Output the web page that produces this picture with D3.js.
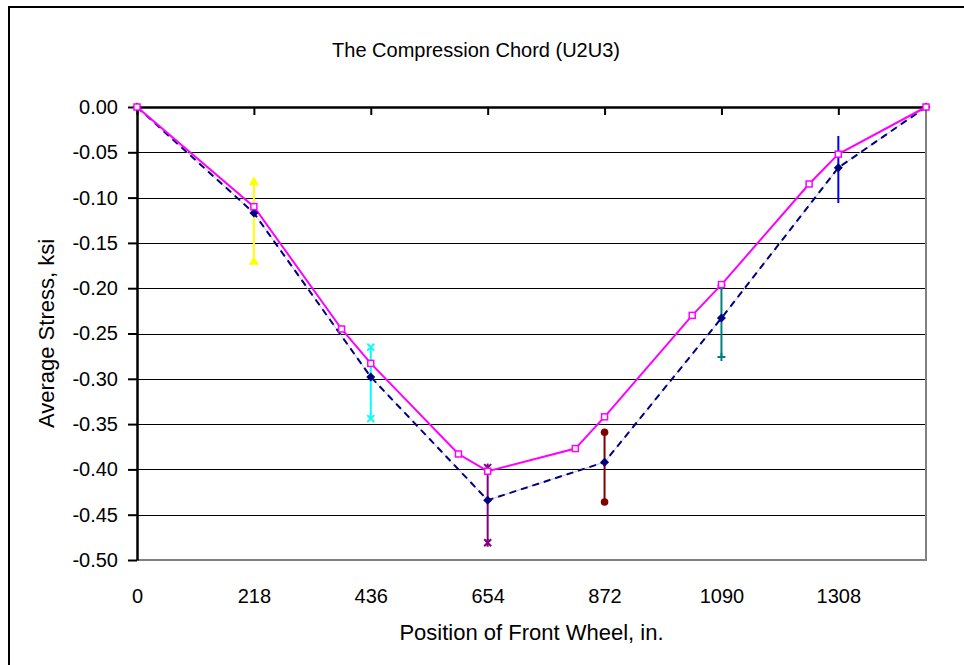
<!DOCTYPE html>
<html lang="en">
<head>
<meta charset="UTF-8">
<title>The Compression Chord (U2U3)</title>
<script src="https://d3js.org/d3.v7.min.js"></script>
<style>
    body { margin: 0; background: #fff; }
    text { font-family: Arial, "Liberation Sans", sans-serif; fill: #000; }
</style>
</head>
<body>
<svg id="chart" width="964" height="665"></svg>
<script>
    // computed stress (magenta, open squares)
    const calcPos = [0, 218, 381.5, 436, 599.5, 654, 817.5, 872, 1035.5, 1090, 1253.5, 1308, 1471.5];
    const calcStress = [0, -0.110, -0.245, -0.283, -0.383, -0.402, -0.377, -0.342, -0.230, -0.196, -0.085, -0.052, 0];

    // measured average stress (navy dashed, diamonds)
    const measPos = [0, 218, 436, 654, 872, 1090, 1308, 1471.5];
    const measStress = [0, -0.117, -0.298, -0.434, -0.392, -0.233, -0.067, 0];

    // range bars at each panel point
    const barPos = [218, 436, 654, 872, 1090, 1308];
    const barHigh = [-0.083, -0.265, -0.398, -0.359, -0.197, -0.032];
    const barLow = [-0.171, -0.344, -0.481, -0.436, -0.276, -0.106];
    const barColors = ['#ffff00', '#00ffff', '#800080', '#800000', '#008080', '#0000ff'];
    const barMarks = ['triangle', 'cross', 'star', 'circle', 'plus', 'none'];

    const xTicks = [0, 218, 436, 654, 872, 1090, 1308];
    const yTicks = [0, -0.05, -0.10, -0.15, -0.20, -0.25, -0.30, -0.35, -0.40, -0.45, -0.50];

    const svg = d3.select('#chart');
    const fs = 20;
    const fsTitle = 22;

    const x = d3.scaleLinear().domain([0, 1471.5]).range([137, 926]);
    const y = d3.scaleLinear().domain([-0.5, 0]).range([560, 107]);

    // outer frame
    svg.append('rect')
        .attr('x', 9).attr('y', 7)
        .attr('width', 1000).attr('height', 700)
        .attr('fill', 'none').attr('stroke', '#000').attr('stroke-width', 2);

    svg.append('text')
        .attr('x', 476).attr('y', 57)
        .attr('text-anchor', 'middle')
        .style('font-size', fs + 'px')
        .text('The Compression Chord (U2U3)');

    // gridlines
    svg.append('g')
        .selectAll('line')
        .data(yTicks.filter(d => d < 0 && d > -0.5))
        .enter().append('line')
        .attr('x1', x(0)).attr('x2', x(1471.5))
        .attr('y1', d => Math.round(y(d)) + 0.5).attr('y2', d => Math.round(y(d)) + 0.5)
        .attr('stroke', '#000').attr('stroke-width', 1);

    // bottom and right plot border
    svg.append('path')
        .attr('d', `M${x(0)},${y(-0.5)}H${x(1471.5)}V${y(0)}`)
        .attr('fill', 'none').attr('stroke', '#808080').attr('stroke-width', 2);

    // x axis line sits at 0 with ticks pointing into the plot
    const topAxis = svg.append('g')
        .attr('transform', `translate(0,${y(0)})`)
        .call(d3.axisBottom(x).tickValues(xTicks).tickSize(8).tickSizeOuter(0).tickFormat(''));
    topAxis.select('.domain').attr('stroke-width', 2.5);
    topAxis.selectAll('.tick line').attr('stroke-width', 2);

    // x tick labels under the plot
    const bottomAxis = svg.append('g')
        .attr('transform', `translate(0,${y(-0.5)})`)
        .call(d3.axisBottom(x).tickValues(xTicks).tickSize(0).tickPadding(29).tickFormat(d => d));
    bottomAxis.select('.domain').remove();
    bottomAxis.selectAll('text').style('font-size', fs + 'px').attr('font-family', null);

    const leftAxis = svg.append('g')
        .attr('transform', `translate(${x(0)},0)`)
        .call(d3.axisLeft(y).tickValues(yTicks).tickSize(9).tickSizeOuter(0).tickPadding(10)
            .tickFormat(d => d.toFixed(2)));
    leftAxis.select('.domain').attr('stroke-width', 2.5);
    leftAxis.selectAll('.tick line').attr('stroke-width', 2);
    leftAxis.selectAll('text').style('font-size', fs + 'px').attr('font-family', null);

    svg.append('text')
        .attr('transform', `translate(54,${(y(0) + y(-0.5)) / 2}) rotate(-90)`)
        .attr('text-anchor', 'middle')
        .style('font-size', fsTitle + 'px')
        .text('Average Stress, ksi');

    svg.append('text')
        .attr('x', (x(0) + x(1471.5)) / 2).attr('y', 640)
        .attr('text-anchor', 'middle')
        .style('font-size', fsTitle + 'px')
        .text('Position of Front Wheel, in.');

    // range bars
    const bars = svg.append('g');
    barPos.forEach((p, i) => {
        const c = barColors[i];
        const cx = x(p);
        bars.append('line')
            .attr('x1', cx).attr('x2', cx)
            .attr('y1', y(barHigh[i])).attr('y2', y(barLow[i]))
            .attr('stroke', c).attr('stroke-width', 2);
        [barHigh[i], barLow[i]].forEach(v => {
            const cy = y(v);
            const g = bars.append('g').attr('transform', `translate(${cx},${cy})`);
            const m = barMarks[i];
            if (m === 'triangle') {
                g.append('path').attr('d', d3.symbol(d3.symbolTriangle, 45)()).attr('fill', c);
            } else if (m === 'circle') {
                g.append('circle').attr('r', 3.8).attr('fill', c);
            } else if (m === 'cross' || m === 'star') {
                g.append('path').attr('d', 'M-3.5,-3.5L3.5,3.5M-3.5,3.5L3.5,-3.5')
                    .attr('stroke', c).attr('stroke-width', 2);
                if (m === 'star') {
                    g.append('path').attr('d', 'M0,-4V4').attr('stroke', c).attr('stroke-width', 2);
                }
            } else if (m === 'plus') {
                g.append('path').attr('d', 'M-4,0H4M0,-4V4').attr('stroke', c).attr('stroke-width', 2);
            }
        });
    });

    const measData = measPos.map((p, i) => [p, measStress[i]]);
    const calcData = calcPos.map((p, i) => [p, calcStress[i]]);
    const line = d3.line().x(d => x(d[0])).y(d => y(d[1]));

    // measured: pale underline plus navy dashes
    svg.append('path')
        .attr('d', line(measData))
        .attr('fill', 'none').attr('stroke', '#c4c4dc').attr('stroke-width', 1);
    svg.append('path')
        .attr('d', line(measData))
        .attr('fill', 'none').attr('stroke', '#000080').attr('stroke-width', 2)
        .attr('stroke-dasharray', '7,5');

    svg.append('path')
        .attr('d', line(calcData))
        .attr('fill', 'none').attr('stroke', '#ff00ff').attr('stroke-width', 2);

    svg.append('g')
        .selectAll('path')
        .data(measData)
        .enter().append('path')
        .attr('transform', d => `translate(${x(d[0])},${y(d[1])})`)
        .attr('d', 'M0,-4.5L4.5,0L0,4.5L-4.5,0Z')
        .attr('fill', '#000080');

    svg.append('g')
        .selectAll('rect')
        .data(calcData)
        .enter().append('rect')
        .attr('x', d => x(d[0]) - 3).attr('y', d => y(d[1]) - 3)
        .attr('width', 6).attr('height', 6)
        .attr('fill', '#fff').attr('stroke', '#ff00ff').attr('stroke-width', 1.5);
</script>
</body>
</html>
